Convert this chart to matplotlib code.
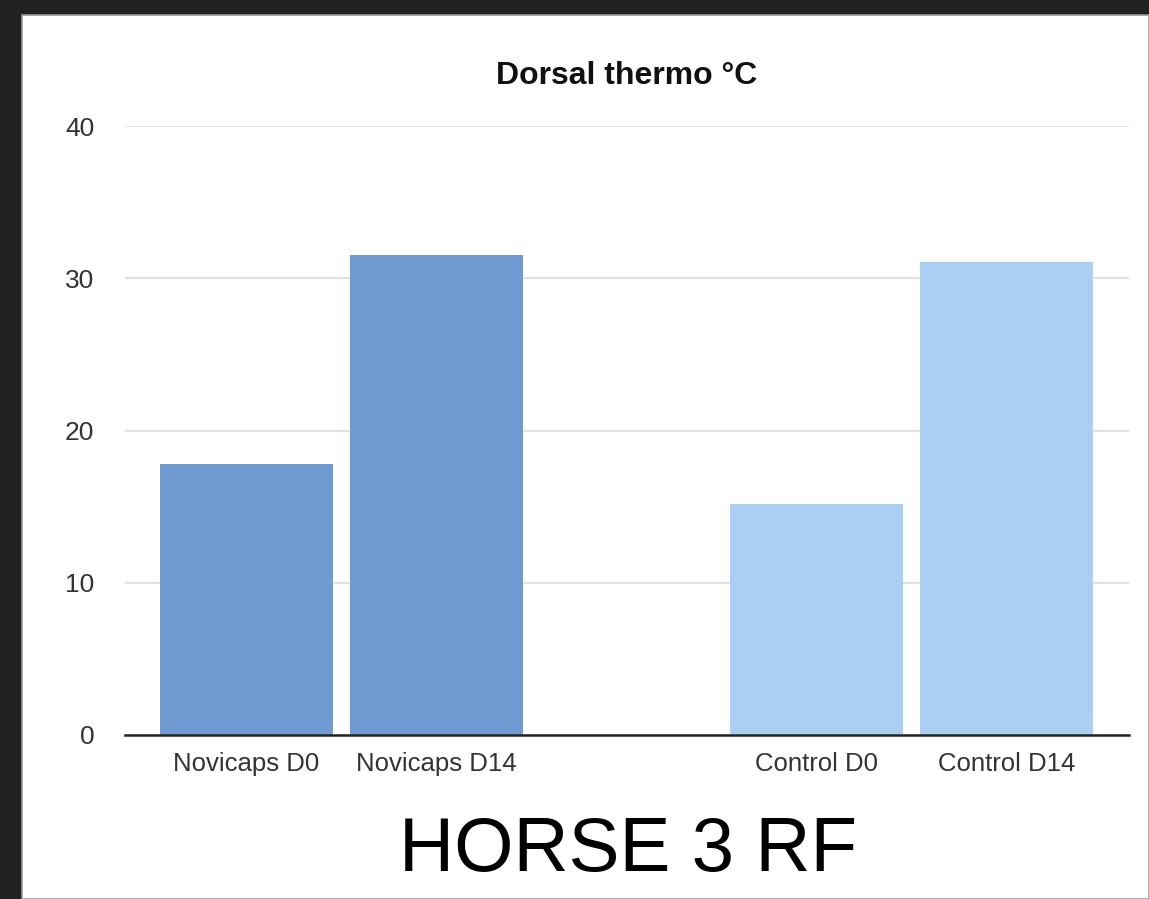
import matplotlib
matplotlib.use("Agg")
import matplotlib.pyplot as plt
from matplotlib.patches import Rectangle

plt.rcParams['font.family'] = ['Liberation Sans', 'DejaVu Sans']

# data
categories = ["Novicaps D0", "Novicaps D14", "Control D0", "Control D14"]
values = [17.8, 31.5, 15.2, 31.1]
positions = [0, 1, 3, 4]
bar_colors = ["#6f9bd2", "#6f9bd2", "#aacff3", "#aacff3"]
yticks = [0, 10, 20, 30, 40]

W, H = 1149, 899
fig = plt.figure(figsize=(W / 100, H / 100), dpi=100, facecolor="#222222")

# white slide area
fig.patches.append(Rectangle((22 / W, 0), 1 - 22 / W, 1 - 15 / H,
                             transform=fig.transFigure, facecolor="white",
                             edgecolor="#9a9a9a", linewidth=1.2, zorder=-5))

ax = fig.add_axes([125 / W, 1 - 735 / H, (1129 - 125) / W, (735 - 126) / H])
ax.set_zorder(2)
ax.set_facecolor("none")
ax.bar(positions, values, width=0.91, color=bar_colors, zorder=2)

ax.set_xlim(-0.64, 4.645)
ax.set_ylim(0, 40)
ax.set_yticks(yticks)
ax.set_yticklabels([str(t) for t in yticks])
ax.set_xticks(positions)
ax.set_xticklabels(categories)
ax.tick_params(axis="y", length=0, pad=22, labelsize=19, labelcolor="#333333")
ax.tick_params(axis="x", length=0, pad=12, labelsize=18.5, labelcolor="#333333")
ax.grid(axis="y", color="#e2e2e2", linewidth=1.5, zorder=1)
ax.set_axisbelow(True)
for s in ["top", "right", "left"]:
    ax.spines[s].set_visible(False)
ax.spines["bottom"].set_color("#222222")
ax.spines["bottom"].set_linewidth(1.8)
ax.spines["bottom"].set_zorder(3)

fig.text(627 / W, 1 - 76 / H, "Dorsal thermo °C", ha="center", va="center",
         fontsize=23, fontweight="bold", color="#111111")
fig.text(628 / W, 1 - 851 / H, "HORSE 3 RF", ha="center", va="center",
         fontsize=55, color="#000000")

fig.savefig("out.png", dpi=100, facecolor=fig.get_facecolor())
